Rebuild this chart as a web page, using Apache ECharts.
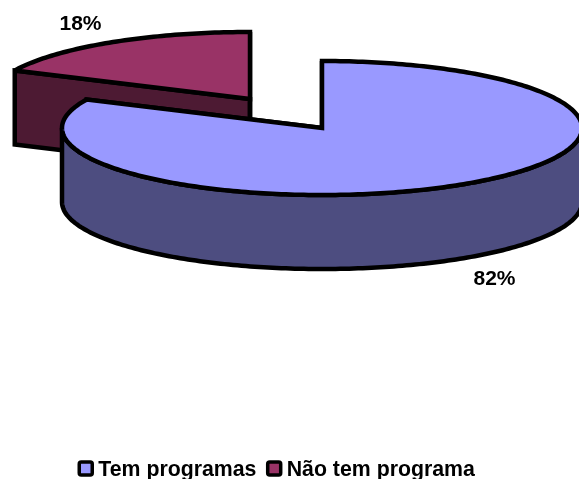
<!DOCTYPE html>
<html>
<head>
<meta charset="utf-8">
<style>
  html, body { margin: 0; padding: 0; background: #fff; overflow: hidden; }
  #chart { width: 579px; height: 479px; }
</style>
<script src="https://cdn.jsdelivr.net/npm/echarts@6/dist/echarts.min.js"></script>
</head>
<body>
<div id="chart"></div>
<script>
var categories = ["Tem programas", "Não tem programa"];
var shares = [82, 18];

var topColors = ["#9999FF", "#993366"];
var sideColors = ["#4D4D80", "#4D1A33"];
var centers = [[322, 128], [250, 99]];
var labelPos = [[494.5, 279], [80.5, 24]];
var rx = 260, ry = 67, depth = 74;
var lineW = 4.5;

var total = shares.reduce(function (a, b) { return a + b; }, 0);

// clockwise from 12 o'clock, in degrees, projected on the tilted ellipse
function rim(c, deg, dy) {
  var t = deg * Math.PI / 180;
  return [c[0] + rx * Math.sin(t), c[1] - ry * Math.cos(t) + (dy || 0)];
}
function arc(c, from, to, dy) {
  var pts = [];
  for (var d = from; d < to; d += 1) pts.push(rim(c, d, dy));
  pts.push(rim(c, to, dy));
  return pts;
}
function poly(points, fill) {
  return {
    type: "polygon",
    shape: { points: points },
    style: { fill: fill, stroke: "#000", lineWidth: lineW, lineJoin: "miter", miterLimit: 3 }
  };
}
function cutWall(c, deg, fill) {
  var p = rim(c, deg);
  return poly([c, p, [p[0], p[1] + depth], [c[0], c[1] + depth]], fill);
}

function renderSlice(params, api) {
  var i = params.seriesIndex;
  var c = centers[i];
  var before = 0;
  for (var k = 0; k < i; k++) before += shares[k];
  var from = before / total * 360;
  var to = from + api.value(0) / total * 360;
  var kids = [cutWall(c, from, sideColors[i]), cutWall(c, to, sideColors[i])];

  // outer wall only on the front half of the rim
  var a = Math.max(from, 90), b = Math.min(to, 270);
  if (a < b) {
    kids.push(poly(arc(c, a, b).concat(arc(c, a, b, depth).reverse()), sideColors[i]));
  }
  kids.push(poly([c].concat(arc(c, from, to)), topColors[i]));
  kids.push({
    type: "text",
    style: {
      x: labelPos[i][0], y: labelPos[i][1],
      text: api.value(0) + "%",
      align: "center", verticalAlign: "middle",
      font: "bold 21px 'Liberation Sans', Arial, sans-serif",
      fill: "#000"
    }
  });
  return { type: "group", children: kids };
}

var seriesList = [];
categories.forEach(function (name, i) {
  seriesList.push({
    name: name,
    type: "custom",
    coordinateSystem: "none",
    renderItem: renderSlice,
    data: [[shares[i]]],
    // small slice goes under the big one
    z: i === 0 ? 3 : 2,
    silent: true,
    animation: false,
    itemStyle: { color: topColors[i], borderColor: "#000", borderWidth: 3 }
  });
});

var chart = echarts.init(document.getElementById("chart"), null, { renderer: "canvas" });
chart.setOption({
  backgroundColor: "#ffffff",
  animation: false,
  tooltip: { show: false },
  legend: {
    data: categories.map(function (n, i) {
      return {
        name: n,
        // the empty move at the bottom lifts the box a little above the text
        icon: "path://M2 0H11Q13 0 13 2V11Q13 13 11 13H2Q0 13 0 11V2Q0 0 2 0ZM0 17L0 17",
        itemStyle: { color: topColors[i], borderColor: "#000", borderWidth: 3.5 }
      };
    }),
    left: 77.5,
    top: 460,
    itemWidth: 13,
    itemHeight: 17,
    itemGap: 9.5,
    padding: 0,
    selectedMode: false,
    textStyle: {
      color: "#000",
      fontFamily: "'Liberation Sans', Arial, sans-serif",
      fontWeight: "bold",
      fontSize: 21.3,
      padding: [0, 0, 0, 1]
    }
  },
  series: seriesList
});
</script>
</body>
</html>
